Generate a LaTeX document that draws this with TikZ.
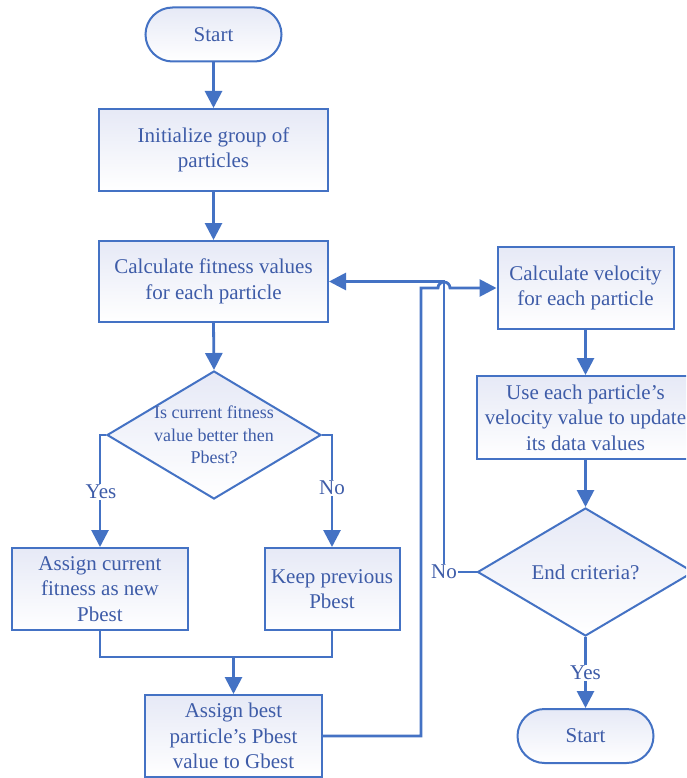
\documentclass[tikz,border=0pt]{standalone}
\usepackage{fontspec}
\setmainfont{Liberation Serif}
\usetikzlibrary{arrows.meta,shapes.geometric}

\definecolor{lineblue}{RGB}{68,114,196}
\definecolor{textblue}{RGB}{62,92,168}
\definecolor{fillblue}{RGB}{230,233,246}

\tikzset{
  boxbase/.style={draw=lineblue, line width=2pt, top color=fillblue, bottom color=white,
    text=textblue, align=center, inner sep=0pt,
    font=\fontsize{21}{25.5}\selectfont},
  procbox/.style={boxbase, rectangle, minimum height=82pt},
  termbox/.style={boxbase, rectangle, rounded corners=27pt,
    minimum width=136pt, minimum height=54pt},
  decbox/.style={boxbase, diamond, minimum width=214pt, minimum height=128pt},
  dtext/.style={text=textblue, align=center, inner sep=0pt},
  flow/.style={draw=lineblue, line width=2.8pt},
  conn/.style={flow, -{Triangle[width=17pt,length=17pt]}},
  lbl/.style={fill=white, text=textblue, inner sep=1pt,
    font=\fontsize{21}{25}\selectfont}
}

\begin{document}
\begin{tikzpicture}[x=1pt,y=-1pt]
  \useasboundingbox (0,0) rectangle (686,778);
  \fill[white] (0,0) rectangle (686,778);
  \clip (0,0) rectangle (686,778);

  % left column
  \node[termbox] (start1) at (213.5,34.5) {Start};
  \node[procbox, minimum width=229pt] (init) at (213.5,150) {Initialize group of\\particles};
  \node[procbox, minimum width=229pt, minimum height=81pt] (fit) at (213.5,281.5)
    {Calculate fitness values\\for each particle};
  \node[decbox] (dia1) at (214,435) {};
  \node[dtext, font=\fontsize{18}{22.5}\selectfont] at (dia1) {Is current fitness\\value better then\\Pbest?};
  \node[procbox, minimum width=176pt] (assignc) at (100,589) {Assign current\\fitness as new\\Pbest};
  \node[procbox, minimum width=135pt] (keep) at (332,589) {Keep previous\\Pbest};
  \node[procbox, minimum width=177pt] (assignb) at (233.5,736) {Assign best\\particle’s Pbest\\value to Gbest};

  % right column
  \node[procbox, minimum width=176pt] (vel) at (585.5,288) {Calculate velocity\\for each particle};
  \node[procbox, minimum width=218pt, minimum height=83pt] (use) at (585.5,417.5)
    {Use each particle’s\\velocity value to update\\its data values};
  \node[decbox, minimum width=216pt] (dia2) at (585.5,572) {};
  \node[dtext, font=\fontsize{21}{25}\selectfont] at (dia2) {End criteria?};
  \node[termbox] (start2) at (585.5,736) {Start};

  % main sequence
  \draw[conn] (start1.south) -- (init.north);
  \draw[conn] (init.south) -- (fit.north);
  \draw[conn] (fit.south) -- (dia1.north);
  \draw[conn] (dia1.west) -| (assignc.north);
  \draw[conn] (dia1.east) -| (keep.north);

  % merge of both branches
  \coordinate (merge) at (233.5,657);
  \draw[flow] (assignc.south) |- (merge);
  \draw[flow] (keep.south) |- (merge);
  \draw[conn] (merge) -- (assignb.north);

  % Gbest to velocity update, hopping over the return line
  \coordinate (loopup) at (421,288);
  \coordinate (hop) at (444,288);
  \draw[conn] (assignb.east) -| (loopup) -- ([xshift=-6pt]hop)
    arc[start angle=180, end angle=0, radius=6pt] -- (vel.west);

  \draw[conn] (vel.south) -- (use.north);
  \draw[conn] (use.south) -- (dia2.north);
  \draw[conn] (dia2.south) -- (start2.north);

  % return loop
  \node[lbl] (no2) at (444,572) {No};
  \draw[flow] (dia2.west) -- (no2.east);
  \draw[conn] (no2.north) |- (fit.east);

  % branch labels
  \node[lbl] (yes1) at (101,492) {Yes};
  \node[lbl] (no1) at (332,488) {No};
  \node[lbl] (yes2) at (585.5,673) {Yes};
\end{tikzpicture}
\end{document}
